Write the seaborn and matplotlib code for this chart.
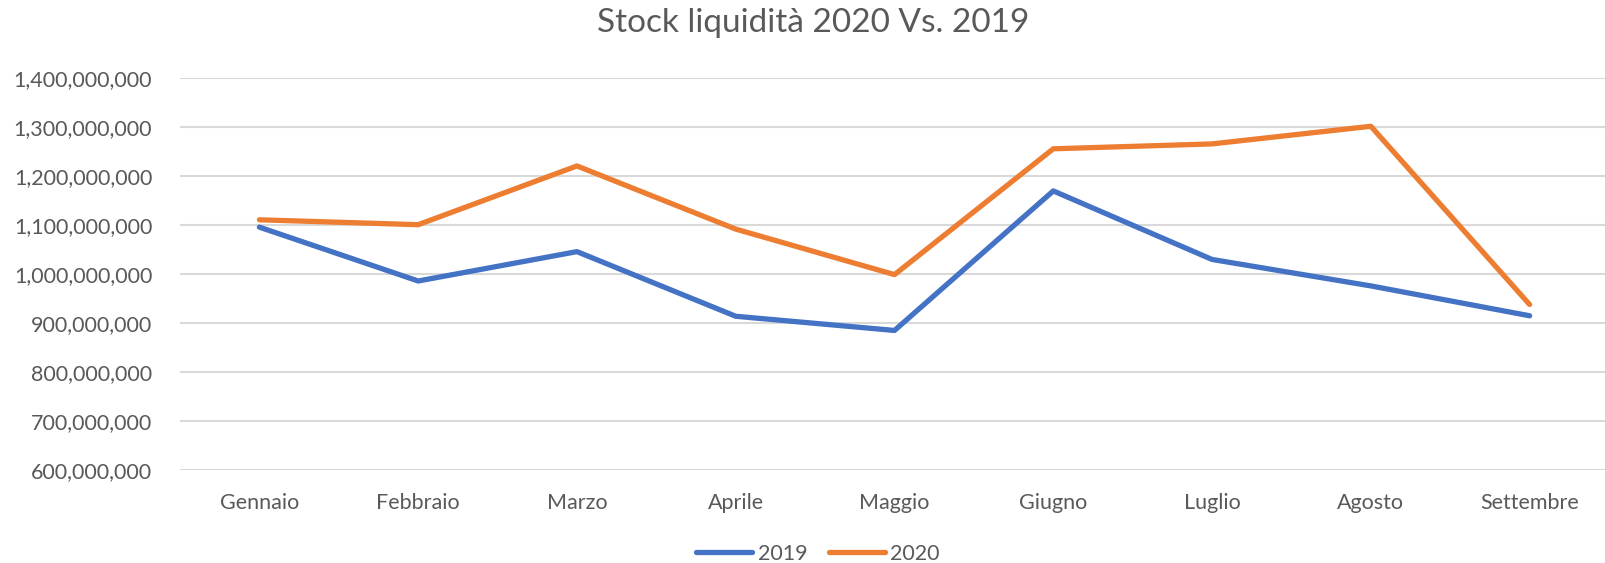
import numpy as np
import pandas as pd
import matplotlib
matplotlib.use("Agg")
import matplotlib.pyplot as plt
import seaborn as sns
from matplotlib.ticker import FuncFormatter
from matplotlib.lines import Line2D

months = ["Gennaio", "Febbraio", "Marzo", "Aprile", "Maggio", "Giugno", "Luglio", "Agosto", "Settembre"]
values_2019 = [1096e6, 986e6, 1046e6, 914e6, 885e6, 1170e6, 1030e6, 976e6, 915e6]
values_2020 = [1111e6, 1101e6, 1221e6, 1092e6, 999e6, 1256e6, 1266e6, 1302e6, 938e6]
series_names = ["2019", "2020"]
title = "Stock liquidità 2020 Vs. 2019"

df = pd.DataFrame({
    "Mese": months * 2,
    "Valore": values_2019 + values_2020,
    "Anno": [series_names[0]] * len(months) + [series_names[1]] * len(months),
})

sns.set_theme(style="white")
plt.rcParams["font.family"] = ["Lato", "DejaVu Sans"]

W, H = 1606, 563
fig = plt.figure(figsize=(W / 100, H / 100), dpi=100)
left, right = 180, 1609
top, bottom = 78.3, 470
ax = fig.add_axes([left / W, 1 - bottom / H, (right - left) / W, (bottom - top) / H])

text_color = "#595959"
palette = {"2019": "#4472C4", "2020": "#ED7D31"}

sns.lineplot(data=df, x="Mese", y="Valore", hue="Anno", palette=palette,
             linewidth=3.8, sort=False, ax=ax, legend=False)
for line in ax.lines:
    line.set_solid_capstyle("round")
    line.set_solid_joinstyle("round")

ax.set_xlim(-0.5, len(months) - 0.5)
ax.set_ylim(600e6, 1400e6)
ax.set_yticks(np.arange(600e6, 1400e6 + 1, 100e6))
ax.yaxis.set_major_formatter(FuncFormatter(lambda v, p: f"{int(round(v)):,}"))
ax.grid(axis="y", color="#D9D9D9", linewidth=1.5)
ax.grid(axis="x", visible=False)
ax.set_axisbelow(True)
for s in ax.spines.values():
    s.set_visible(False)
ax.set_xlabel("")
ax.set_ylabel("")
ax.tick_params(axis="y", length=0, pad=20, labelsize=15.5, labelcolor=text_color)
ax.tick_params(axis="x", length=0, pad=16.5, labelsize=15.5, labelcolor=text_color)

fig.text(813.5 / W, 1 - 22.5 / H, title, ha="center", va="center",
         fontsize=24, color=text_color)

handles = [Line2D([0], [0], color=palette[n], lw=3.8, solid_capstyle="round") for n in series_names]
fig.legend(handles, series_names, loc="center", bbox_to_anchor=(818 / W, 1 - 554 / H),
           ncol=2, frameon=False, fontsize=15.5, labelcolor=text_color,
           handlelength=2.6, handletextpad=0.25, columnspacing=1.0)

fig.savefig("out.png", dpi=100)
